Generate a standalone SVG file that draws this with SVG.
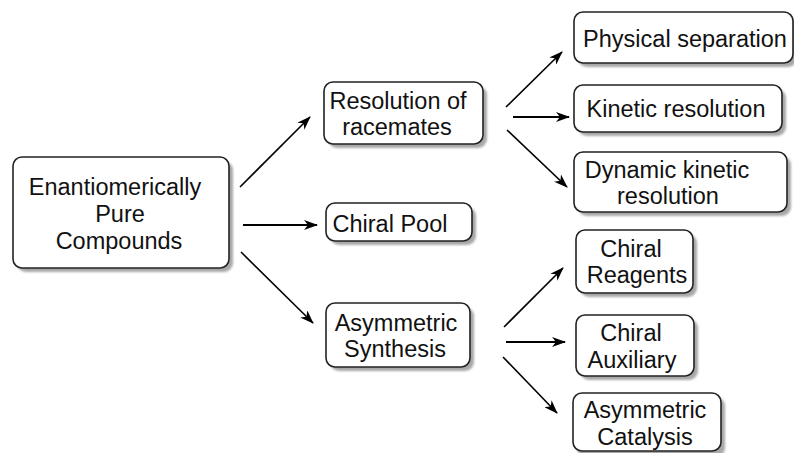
<svg xmlns="http://www.w3.org/2000/svg" width="794" height="453" viewBox="0 0 794 453">
<defs>
<filter id="blur" x="-10%" y="-10%" width="120%" height="130%"><feGaussianBlur stdDeviation="1.2"/></filter>
<marker id="ah" markerWidth="14" markerHeight="10" refX="13" refY="5" orient="auto" markerUnits="userSpaceOnUse" viewBox="0 0 14 10">
<path d="M0,0 L14,5 L0,10 L4,5 Z" fill="#000"/>
</marker>
</defs>
<style>
.shadow{fill:#a8a8a8;filter:url(#blur)}
.box{fill:#fff;stroke:#222;stroke-width:1.6}
text{font-family:"Liberation Sans",Arial,sans-serif;font-size:23.5px;fill:#111;text-anchor:middle}
.c line{stroke:#000;stroke-width:1.6;marker-end:url(#ah)}
.c line.h{stroke-width:2.2}
</style>
<rect width="794" height="453" fill="#fff"/>

<g id="n-pure">
<rect class="shadow" x="17" y="161" width="216" height="111" rx="9"/>
<rect class="box" x="13" y="157" width="216" height="111" rx="9"/>
<text x="115" y="195">Enantiomerically</text>
<text x="120" y="222">Pure</text>
<text x="119" y="249">Compounds</text>
</g>

<g id="n-resolution">
<rect class="shadow" x="328" y="86" width="159" height="62" rx="9"/>
<rect class="box" x="324" y="82" width="159" height="62" rx="9"/>
<text x="398" y="109">Resolution of</text>
<text x="397" y="135">racemates</text>
</g>

<g id="n-pool">
<rect class="shadow" x="330" y="207" width="146" height="38" rx="9"/>
<rect class="box" x="326" y="203" width="146" height="38" rx="9"/>
<text x="390" y="232">Chiral Pool</text>
</g>

<g id="n-asym">
<rect class="shadow" x="330" y="307" width="144" height="64" rx="9"/>
<rect class="box" x="326" y="303" width="144" height="64" rx="9"/>
<text x="396" y="331">Asymmetric</text>
<text x="395" y="357">Synthesis</text>
</g>

<g id="n-physical">
<rect class="shadow" x="578" y="16" width="219" height="51" rx="9"/>
<rect class="box" x="574" y="12" width="219" height="51" rx="9"/>
<text x="685" y="47">Physical separation</text>
</g>

<g id="n-kinetic">
<rect class="shadow" x="578" y="89" width="208" height="47" rx="9"/>
<rect class="box" x="574" y="85" width="208" height="47" rx="9"/>
<text x="676" y="117">Kinetic resolution</text>
</g>

<g id="n-dynamic">
<rect class="shadow" x="578" y="156" width="213" height="60" rx="9"/>
<rect class="box" x="574" y="152" width="213" height="60" rx="9"/>
<text x="667" y="178">Dynamic kinetic</text>
<text x="668" y="204">resolution</text>
</g>

<g id="n-reagents">
<rect class="shadow" x="580" y="234" width="117" height="63" rx="9"/>
<rect class="box" x="576" y="230" width="117" height="63" rx="9"/>
<text x="631" y="257">Chiral</text>
<text x="637" y="283">Reagents</text>
</g>

<g id="n-auxiliary">
<rect class="shadow" x="580" y="319" width="118" height="61" rx="9"/>
<rect class="box" x="576" y="315" width="118" height="61" rx="9"/>
<text x="631" y="341">Chiral</text>
<text x="632" y="368">Auxiliary</text>
</g>

<g id="n-catalysis">
<rect class="shadow" x="577" y="397" width="148" height="60" rx="9"/>
<rect class="box" x="573" y="393" width="148" height="58" rx="9"/>
<text x="645" y="418">Asymmetric</text>
<text x="645" y="445">Catalysis</text>
</g>

<g id="connectors" class="c">
<line x1="240" y1="187" x2="310" y2="117"/>
<line class="h" x1="243" y1="225" x2="317" y2="225"/>
<line x1="241" y1="252" x2="313" y2="323"/>
<line x1="506" y1="107" x2="562" y2="52"/>
<line class="h" x1="513" y1="117" x2="569" y2="117"/>
<line x1="507" y1="130" x2="567" y2="187"/>
<line x1="504" y1="327" x2="563" y2="268"/>
<line class="h" x1="506" y1="342" x2="565" y2="342"/>
<line x1="503" y1="357" x2="557" y2="413"/>
</g>
</svg>
